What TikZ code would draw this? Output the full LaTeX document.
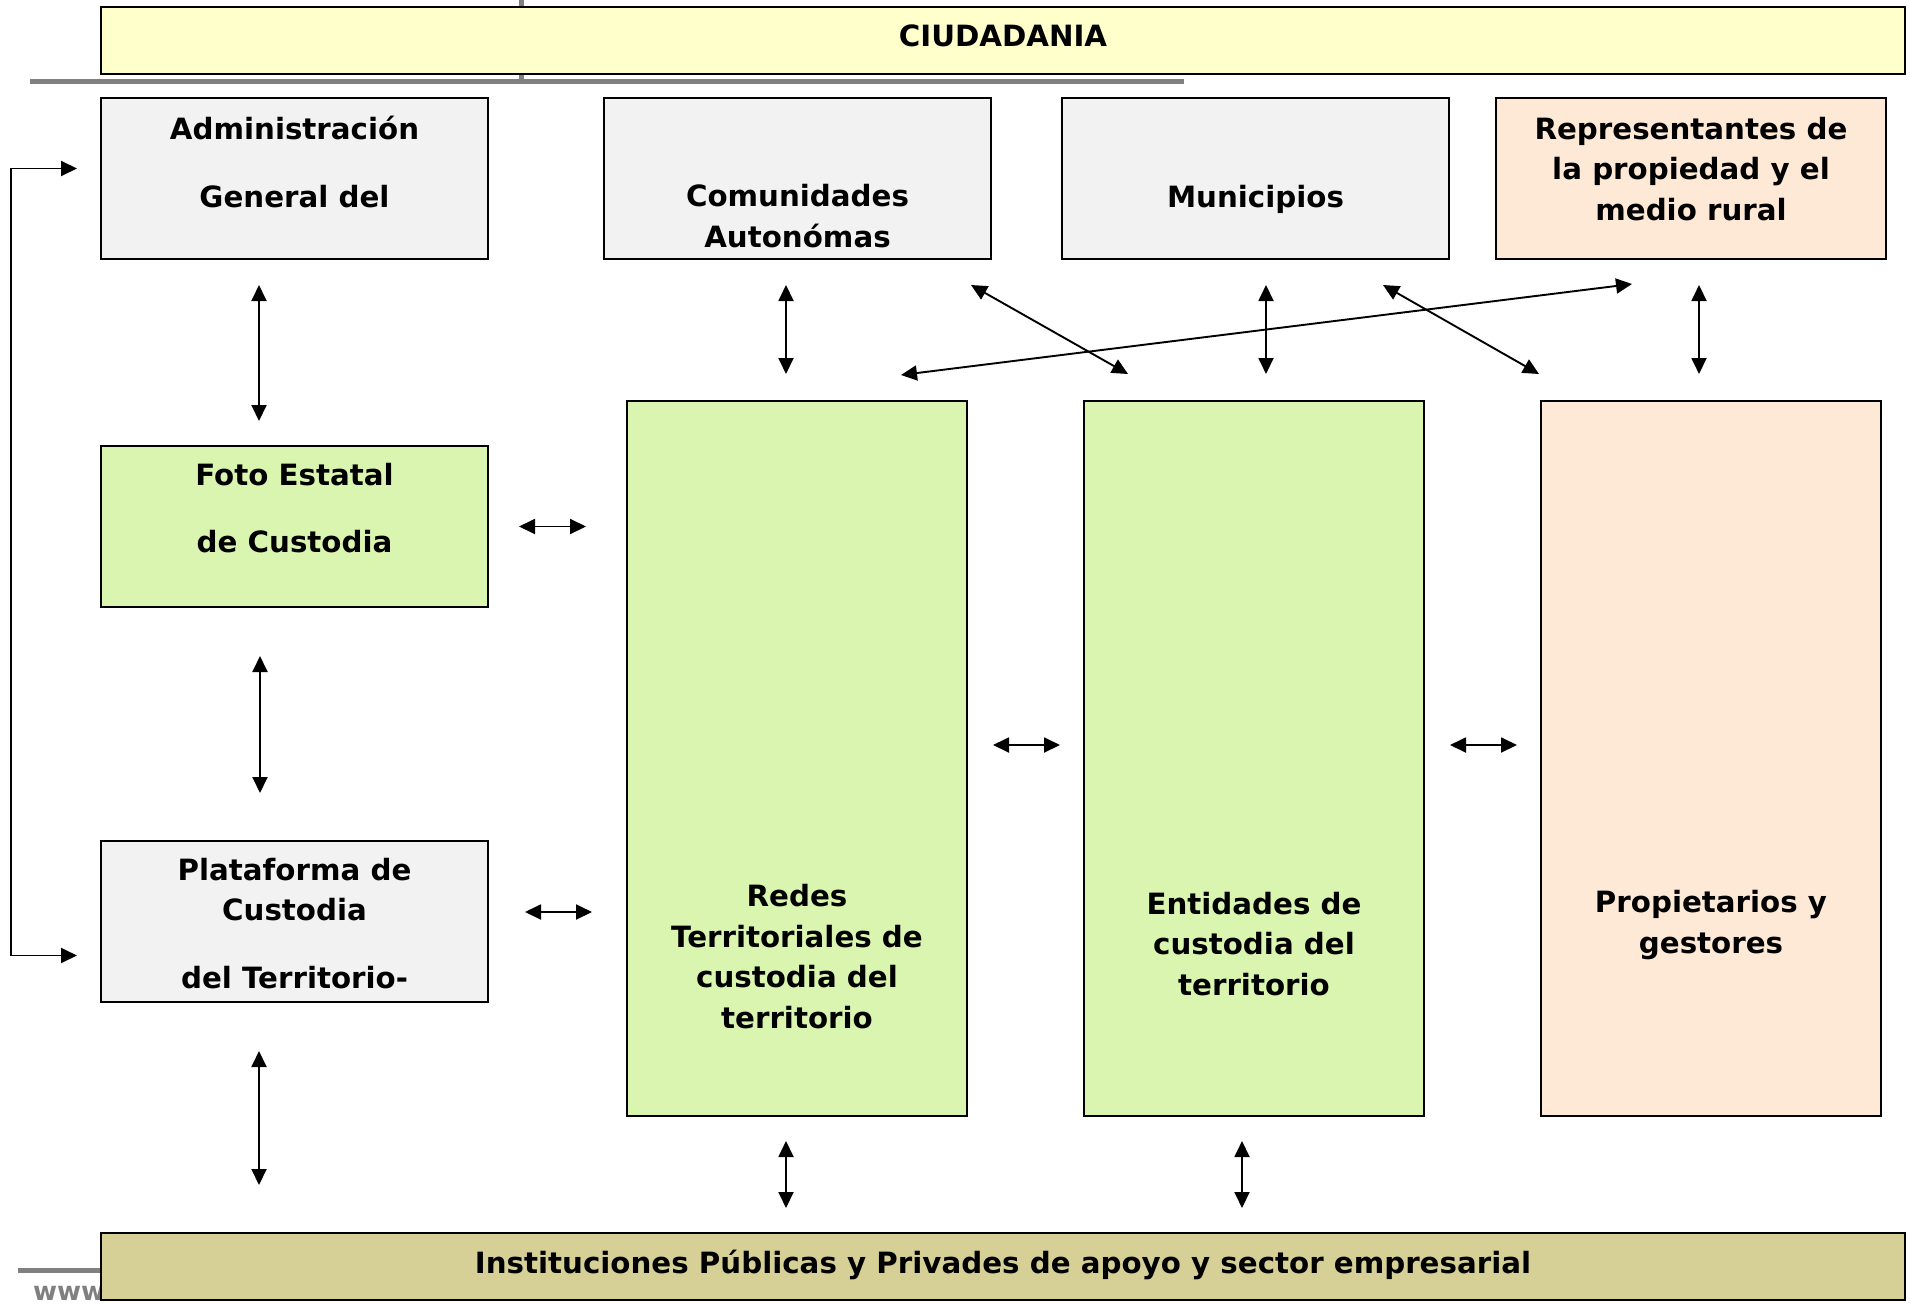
\documentclass[tikz,border=0pt]{standalone}
\usepackage{fontspec}
\setmainfont{DejaVu Sans}
\usetikzlibrary{arrows.meta, positioning}

\definecolor{ciudfill}{HTML}{FFFFCC}
\definecolor{boxgray}{HTML}{F2F2F2}
\definecolor{boxgreen}{HTML}{D9F5B0}
\definecolor{boxpeach}{HTML}{FDE9D6}
\definecolor{boxkhaki}{HTML}{D6D096}
\definecolor{rulegray}{HTML}{808080}

\begin{document}
\begin{tikzpicture}[x=1pt, y=-1pt,
    box/.style={draw, line width=2.4pt, inner sep=0pt, minimum width=386.6pt, minimum height=160.6pt, fill=boxgray},
    tall/.style={box, minimum width=339.6pt, minimum height=714.6pt},
    band/.style={box, minimum width=1803.6pt, minimum height=66.6pt},
    txt/.style={anchor=base, align=center, inner sep=0pt, font=\fontsize{29.3}{40.5}\selectfont\bfseries},
    dbl/.style={{Triangle[length=16pt,width=15pt]}-{Triangle[length=16pt,width=15pt]}, line width=1.9pt},
    trim/.style 2 args={shorten <=#1pt, shorten >=#2pt},
    rule/.style={rulegray, line width=5pt}]
    \useasboundingbox (0,0) rectangle (1910,1303);
    % gray rules behind the bands
    \draw[rule] (521,0) -- (521,82) (30,82) -- (1184,82) (18,1270) -- (100,1270);
    \node[anchor=base west, inner sep=0pt, text=rulegray, font=\fontsize{26}{30}\selectfont\bfseries](www) at (33,1300){www};

    \node[band, fill=ciudfill](ciud) at (1003,40.5){};
    \node[band, fill=boxkhaki](inst) at (1003,1266.5){};

    \node[box](admin) at (294.5,178.5){};
    \node[box, right=114pt of admin](comun){};
    \node[box, right=69pt of comun](munic){};
    \node[box, fill=boxpeach, minimum width=389.6pt, right=45pt of munic](repres){};
    \node[box, fill=boxgreen, below=185pt of admin](foto){};
    \node[box, below=232pt of foto](plat){};

    \node[tall, fill=boxgreen](redes) at (797,758.5){};
    \node[tall, fill=boxgreen, right=115pt of redes](entid){};
    \node[tall, fill=boxpeach, right=115pt of entid](propi){};

    % texts, placed by the baseline of their last line
    \node[txt](ciud-t) at ([yshift=-41pt]ciud.north){CIUDADANIA};
    \node[txt](inst-t) at ([yshift=-41pt]inst.north){Instituciones Públicas y Privades de apoyo y sector empresarial};
    \node[txt](admin-t) at ([yshift=-110pt]admin.north){Administración\\[27pt]General del};
    \node[txt](comun-t) at ([yshift=-150pt]comun.north){Comunidades\\Autonómas};
    \node[txt](munic-t) at ([yshift=-110pt]munic.north){Municipios};
    \node[txt](repres-t) at ([yshift=-123pt]repres.north){Representantes de\\la propiedad y el\\medio rural};
    \node[txt](foto-t) at ([yshift=-107pt]foto.north){Foto Estatal\\[26pt]de Custodia};
    \node[txt](plat-t) at ([yshift=-148pt]plat.north){Plataforma de\\Custodia\\[27pt]del Territorio-};
    \node[txt](redes-t) at ([yshift=-628pt]redes.north){Redes\\Territoriales de\\custodia del\\territorio};
    \node[txt](entid-t) at ([yshift=-595pt]entid.north){Entidades de\\custodia del\\territorio};
    \node[txt](propi-t) at ([yshift=-553pt]propi.north){Propietarios y\\gestores};

    % connectors
    \draw[dbl] ([shift={(-23,-10)}]admin.west) -- ++(-66,0) |- ([shift={(-23,34)}]plat.west);
    \path
    (259,0 |- admin.south) edge[dbl, trim={25}{24}] (259,0 |- foto.north)
    (260,0 |- foto.south) edge[dbl, trim={48}{47}] (260,0 |- plat.north)
    (259,0 |- plat.south) edge[dbl, trim={48}{47}] (259,0 |- inst.north)
    (foto.east) edge[dbl, trim={30}{40}] (foto.east -| redes.west)
    (plat.east |- 0,912) edge[dbl, trim={36}{34}] (redes.west |- 0,912)
    (redes.east |- 0,745) edge[dbl, trim={25}{23}] (entid.west |- 0,745)
    (entid.east |- 0,745) edge[dbl, trim={25}{23}] (propi.west |- 0,745)
    (786,0 |- comun.south) edge[dbl, trim={25}{26}] (786,0 |- redes.north)
    (1266,0 |- munic.south) edge[dbl, trim={25}{26}] (1266,0 |- entid.north)
    (1699,0 |- repres.south) edge[dbl, trim={25}{26}] (1699,0 |- propi.north)
    ([shift={(-21,25)}]comun.south east) edge[dbl] ([shift={(45,-26)}]entid.north west)
    ([shift={(-67,25)}]munic.south east) edge[dbl] ([shift={(-1,-26)}]propi.north west)
    ([shift={(137,24)}]repres.south west) edge[dbl] ([shift={(-67,-25)}]redes.north east)
    (786,0 |- redes.south) edge[dbl, trim={24}{24}] (786,0 |- inst.north)
    (1242,0 |- entid.south) edge[dbl, trim={24}{24}] (1242,0 |- inst.north);
\end{tikzpicture}
\end{document}
